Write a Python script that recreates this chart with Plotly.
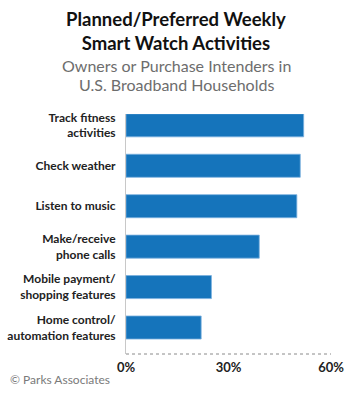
import plotly.graph_objects as go

# Survey data: share of smart watch owners / purchase intenders
activities = [
    "Track fitness<br>activities",
    "Check weather",
    "Listen to music",
    "Make/receive<br>phone calls",
    "Mobile payment/<br>shopping features",
    "Home control/<br>automation features",
]
shares = [52, 51, 50, 39, 25, 22]
x_ticks = [0, 30, 60]
x_tick_labels = ["0%", "30%", "60%"]

title_lines = ["Planned/Preferred Weekly", "Smart Watch Activities"]
subtitle_lines = ["Owners or Purchase Intenders in", "U.S. Broadband Households"]
source_note = "© Parks Associates"

BAR_BLUE = "#1574bb"
LABEL_FONT = "Lato"

fig = go.Figure(
    go.Bar(
        x=shares,
        y=activities,
        orientation="h",
        marker=dict(color=BAR_BLUE, line=dict(color="#7ab0de", width=0.8)),
        hoverinfo="skip",
    )
)

# plot area spans 126..331 px horizontally and 114..354 px vertically
W, H = 350, 401
M_L, M_R, M_T, M_B = 126, 19, 114, 47
plot_w = W - M_L - M_R
plot_h = H - M_T - M_B


def px_x(p):
    return (p - M_L) / plot_w


def px_y(p):
    return (H - M_B - p) / plot_h


annotations = [
    dict(
        text="<b>" + "<br>".join(title_lines) + "</b>",
        x=px_x(176), y=px_y(31), xref="paper", yref="paper",
        xanchor="center", yanchor="middle", showarrow=False,
        font=dict(family="Lato", size=18.5, color="#111111"),
    )
]
for line, py in zip(subtitle_lines, [65, 84]):
    annotations.append(dict(
        text=line, x=px_x(176), y=px_y(py), xref="paper", yref="paper",
        xanchor="center", yanchor="middle", showarrow=False,
        font=dict(family="Lato", size=16, color="#6d6d6d"),
    ))
annotations.append(dict(
    text=source_note, x=px_x(8), y=px_y(379), xref="paper", yref="paper",
    xanchor="left", yanchor="middle", showarrow=False,
    font=dict(family="Lato", size=12, color="#7a7a7a"),
))

fig.update_layout(
    width=W,
    height=H,
    margin=dict(l=M_L, r=M_R, t=M_T, b=M_B, pad=0),
    paper_bgcolor="white",
    plot_bgcolor="white",
    showlegend=False,
    bargap=0.43,
    annotations=annotations,
    shapes=[dict(
        type="line", xref="x", yref="paper", x0=0, x1=60, y0=0, y1=0,
        line=dict(color="#8a8a8a", width=1, dash="dot"),
    )],
    xaxis=dict(
        range=[0, 60],
        tickvals=x_ticks,
        ticktext=x_tick_labels,
        showgrid=False,
        zeroline=False,
        showline=False,
        ticks="",
        automargin=False,
        ticklabelstandoff=4,
        tickfont=dict(family=LABEL_FONT, size=13, color="#222222", weight="bold"),
    ),
    yaxis=dict(
        categoryorder="array",
        categoryarray=activities,
        range=[5.655, -0.28],
        showgrid=False,
        zeroline=False,
        showline=True,
        linecolor="#c8c8c8",
        linewidth=1,
        ticks="",
        automargin=False,
        ticklabelstandoff=7,
        tickfont=dict(family=LABEL_FONT, size=12, color="#222222", weight="bold"),
    ),
)

fig.write_html("out.html")
